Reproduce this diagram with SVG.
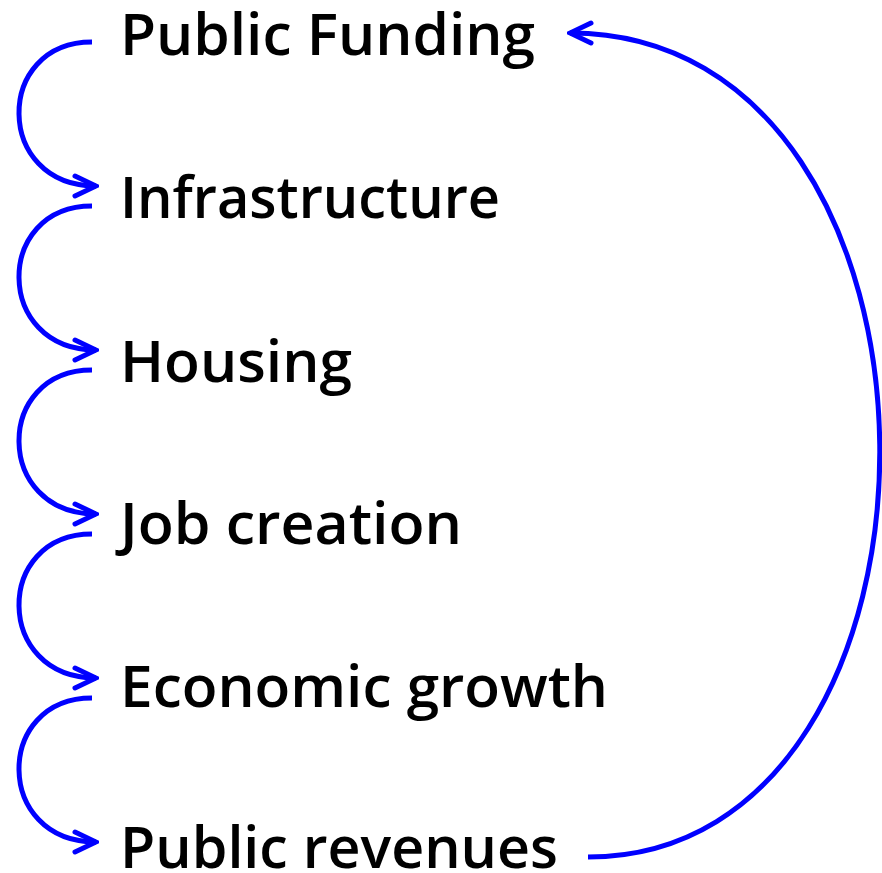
<svg xmlns="http://www.w3.org/2000/svg" width="882" height="873" viewBox="0 0 882 873">
<defs>
<marker id="ah" viewBox="-24 -13 27 26" refX="0" refY="0" markerWidth="27" markerHeight="26" markerUnits="userSpaceOnUse" orient="auto">
<path d="M-21,-10 L0,0 L-21,10" fill="none" stroke="#0000ff" stroke-width="5" stroke-linecap="round" stroke-linejoin="miter"/>
</marker>
<style>
.lbl{font-family:"Open Sans","Noto Sans",sans-serif;font-weight:600;font-size:58px;fill:#000}
.c{fill:none;stroke:#0000ff;stroke-width:5;marker-end:url(#ah)}
</style>
</defs>
<rect width="882" height="873" fill="#fff"/>
<g id="n1"><text class="lbl" x="120" y="55" textLength="415" lengthAdjust="spacingAndGlyphs">Public Funding</text></g>
<g id="n2"><text class="lbl" x="120" y="218" textLength="380" lengthAdjust="spacingAndGlyphs">Infrastructure</text></g>
<g id="n3"><text class="lbl" x="120" y="382" textLength="232" lengthAdjust="spacingAndGlyphs">Housing</text></g>
<g id="n4"><text class="lbl" x="120" y="544" textLength="342" lengthAdjust="spacingAndGlyphs">Job creation</text></g>
<g id="n5"><text class="lbl" x="120" y="707" textLength="488" lengthAdjust="spacingAndGlyphs">Economic growth</text></g>
<g id="n6"><text class="lbl" x="120" y="868" textLength="438" lengthAdjust="spacingAndGlyphs">Public revenues</text></g>
<g id="connectors">
<path class="c" d="M92,42 C-6,42 -6,186 96,186"/>
<path class="c" d="M92,206 C-6,206 -6,350 96,350"/>
<path class="c" d="M92,370 C-6,370 -6,514 96,514"/>
<path class="c" d="M92,534 C-6,534 -6,678 96,678"/>
<path class="c" d="M92,698 C-6,698 -6,842 96,842"/>
<path class="c" d="M588,857 C980,857 980,33 570,33"/>
</g>
</svg>
